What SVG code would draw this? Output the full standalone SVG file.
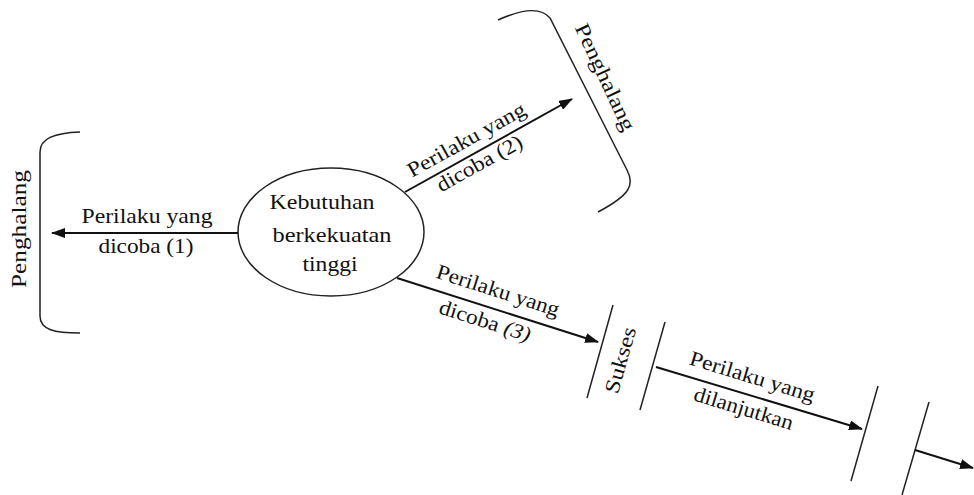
<svg xmlns="http://www.w3.org/2000/svg" width="974" height="495" viewBox="0 0 974 495">
<defs>
<style>
text{font-family:'Liberation Serif','Times New Roman',Times,serif;font-size:21px;fill:#111;text-anchor:middle}
.ln{stroke:#111;stroke-width:2;fill:none}
.br{stroke:#222;stroke-width:1.5;fill:none}
</style>
<marker id="ah" viewBox="0 0 14 10" refX="13" refY="5" markerWidth="14" markerHeight="10" markerUnits="userSpaceOnUse" orient="auto">
<path d="M0,0 L14,5 L0,10 z" fill="#111"/>
</marker>
</defs>
<rect width="974" height="495" fill="#fff"/>

<g id="node-kebutuhan">
<ellipse cx="331" cy="232" rx="93" ry="64" fill="#fff" stroke="#222" stroke-width="1.5"/>
<text x="322" y="209" textLength="105" lengthAdjust="spacingAndGlyphs">Kebutuhan</text>
<text x="332" y="242" textLength="119" lengthAdjust="spacingAndGlyphs">berkekuatan</text>
<text x="330" y="271" textLength="55" lengthAdjust="spacingAndGlyphs">tinggi</text>
</g>

<g id="node-penghalang-left">
<path class="br" d="M80,132 C55,133 40,138 40,152 L40,316 C40,330 55,333 80,333"/>
<text transform="translate(26,229) rotate(-90)" textLength="118" lengthAdjust="spacingAndGlyphs">Penghalang</text>
</g>

<g id="node-penghalang-right">
<path class="br" d="M498,20 C520,10 540,6 550,18 L627,170 C635,185 630,195 598,212"/>
<text transform="translate(599,80) rotate(65)" textLength="116" lengthAdjust="spacingAndGlyphs">Penghalang</text>
</g>

<g id="node-sukses">
<line class="br" x1="613" y1="305" x2="587" y2="398"/>
<line class="br" x1="665" y1="322" x2="640" y2="410"/>
<text transform="translate(627,362) rotate(-74)" textLength="68" lengthAdjust="spacingAndGlyphs">Sukses</text>
</g>

<g id="node-end">
<line class="br" x1="878" y1="386" x2="851" y2="481"/>
<line class="br" x1="929" y1="402" x2="902" y2="495"/>
</g>

<g id="connectors">
<line class="ln" x1="238" y1="233" x2="52" y2="233" marker-end="url(#ah)"/>
<line class="ln" x1="405" y1="192" x2="572" y2="99" marker-end="url(#ah)"/>
<line class="ln" x1="397" y1="278" x2="598" y2="342" marker-end="url(#ah)"/>
<line class="ln" x1="656" y1="367" x2="862" y2="429" marker-end="url(#ah)"/>
<line class="ln" x1="915" y1="450" x2="973" y2="468" marker-end="url(#ah)"/>

<text x="147" y="223" textLength="131" lengthAdjust="spacingAndGlyphs">Perilaku yang</text>
<text x="146" y="253" textLength="95" lengthAdjust="spacingAndGlyphs">dicoba (1)</text>

<g transform="translate(405,192) rotate(-29.1)">
<text x="79" y="-9" textLength="132" lengthAdjust="spacingAndGlyphs">Perilaku yang</text>
<text x="79" y="18" textLength="95" lengthAdjust="spacingAndGlyphs">dicoba (2)</text>
</g>

<g transform="translate(397,278) rotate(17.7)">
<text x="100" y="-12" textLength="128" lengthAdjust="spacingAndGlyphs">Perilaku yang</text>
<text x="97" y="21" textLength="95" lengthAdjust="spacingAndGlyphs">dicoba <tspan font-style="italic">(3)</tspan></text>
</g>

<g transform="translate(656,367) rotate(16.9)">
<text x="95" y="-12" textLength="130" lengthAdjust="spacingAndGlyphs">Perilaku yang</text>
<text x="96" y="21" textLength="103" lengthAdjust="spacingAndGlyphs">dilanjutkan</text>
</g>
</g>
</svg>
